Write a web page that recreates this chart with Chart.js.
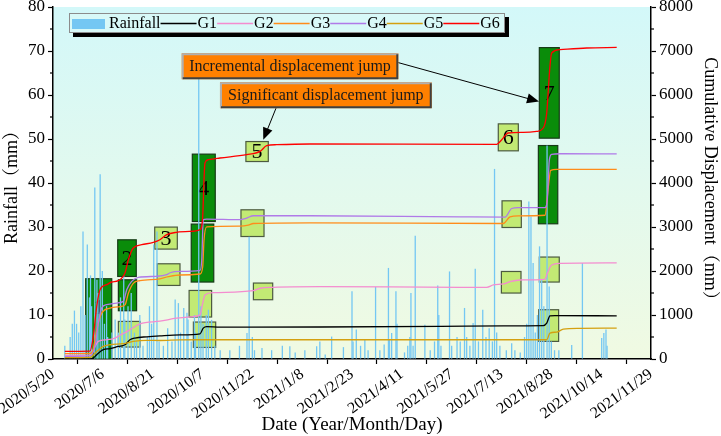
<!DOCTYPE html>
<html><head><meta charset="utf-8">
<script src="https://cdn.jsdelivr.net/npm/chart.js@4.4.1/dist/chart.umd.min.js"></script>
<style>html,body{margin:0;padding:0;background:#fff}#wrap{width:721px;height:436px}</style>
</head><body><div id="wrap"><canvas id="c" width="721" height="436"></canvas></div>
<script>
// ---------- DATA ----------
// x values are days since 2020/5/20
const dateLabels = ['2020/5/20','2020/7/6','2020/8/21','2020/10/7','2020/11/22','2021/1/8','2021/2/23','2021/4/11','2021/5/27','2021/7/13','2021/8/28','2021/10/14','2021/11/29'];
const rainDays = [11,16,18,20,22,24,26,28,30,32,34,35,36,39,41,42,44,46,48,50,51,55,58,61,63,66,67,70,73,76,78,81,84,88,90,92,94,97,99,103,107,111,114,117,119,122,125,126,129,132,133,136,138,140,143,145,148,151,156,165,174,181,183,186,188,195,204,214,221,226,235,246,249,254,260,271,279,280,283,287,291,294,301,305,309,313,314,316,320,321,328,331,333,334,336,338,347,352,356,359,360,362,370,372,377,380,384,386,389,392,394,397,401,404,407,410,412,414,417,423,428,431,436,440,442,444,446,448,450,452,454,456,458,461,463,465,468,472,484,494,512,514,516,517];
const rainVals = [3,5,8,11,8,6,12,29,10,26,14,19,12,39,18,15,42,20,8,12,5,6,9,6,14,19,9,12,15,6,4,10,3,5,12,8,26,29,4,3,7,4,13.5,12.7,6,11.6,10.5,9,4,10,6,66,12,8,10,11.2,8.9,3,2,2,3,5.9,27.8,5,2,2.5,2,3,2.9,1.5,2,2.9,4,1,5.1,2.7,15.4,4,6.7,3,4.4,2,16.4,2,3.3,20.7,4.5,5.9,15.4,8,1.5,3,5,15,3,28,7.8,2,4,16.7,10,3,19.9,3,5,4,11.6,5,3,8.2,20.5,4,11.2,5,7,4,43.2,6,3,2,3.6,2,1.5,5,8,35.8,32.4,21.8,6,10,25.6,18,12,48.5,16.5,4,2,2,3.2,21.8,4.8,5.9,6.7,3];

// cumulative displacement series: [day, mm]
const G1 = [[11,0],[34.5,0],[37.6,20],[40.8,98],[46.9,211],[53.2,234],[60.9,286],[67.2,324],[71.8,437],[76.5,476],[87.4,505],[99.8,527],[118.5,550],[137.2,573],[140.2,702],[143.4,738],[155.8,725],[249.1,727],[361.1,740],[420.2,754],[457.5,760],[460.7,815],[463.7,980],[468.4,987],[526,980]];
const G2 = [[11,80],[34.5,90],[37.6,210],[42.3,400],[50.1,437],[57.9,476],[62.5,540],[67.2,600],[71.8,664],[81.2,800],[99.8,860],[115.4,928],[130.9,965],[137.2,1003],[139.7,1268],[141.8,1456],[149.6,1508],[186.9,1553],[193.2,1608],[205.6,1630],[249.1,1644],[379.8,1630],[404.7,1630],[410.9,1683],[420.2,1705],[426.4,1757],[435.8,1796],[459.1,1811],[461.2,1947],[465.3,2135],[473.1,2174],[526,2185]];
const G3 = [[11,120],[34.5,125],[37.3,200],[40.8,664],[45.4,1042],[53.2,1155],[62.5,1191],[67.2,1230],[70.3,1494],[74.9,1720],[81.2,1780],[99.8,1822],[107.6,1870],[118.5,1909],[137.2,1932],[139.7,2097],[140.9,2700],[143.4,3003],[174.5,3018],[182.2,3041],[186.9,3080],[239.8,3093],[420.2,3080],[426.4,3230],[434.2,3252],[459.1,3267],[462.2,3910],[464.4,4287],[470,4310],[526,4310]];
const G4 = [[11,60],[34.5,70],[39.2,286],[42.3,818],[45.4,1160],[50.1,1234],[59.4,1272],[65.6,1310],[68.8,1575],[73.4,1764],[79.6,1855],[96.8,1880],[106.1,1916],[109.2,1960],[118.5,1990],[137.2,2014],[138.8,2257],[140.2,3166],[143.4,3180],[174.5,3166],[180.7,3204],[186.9,3256],[239.8,3256],[379.8,3230],[421.8,3225],[428,3420],[434.2,3440],[459.1,3440],[461.2,3607],[463.1,4513],[465.3,4650],[473.1,4665],[526,4660]];
const G5 = [[11,30],[34.5,35],[40.8,173],[46.9,286],[53.2,324],[65.6,347],[74.9,400],[87.4,423],[99.8,420],[118.5,435],[137.2,437],[249.1,437],[361.1,437],[460.7,437],[463.7,589],[470,611],[476.2,679],[491.7,695],[526,702]];
const G6 = [[11,175],[34.5,180],[37.6,514],[40.8,1195],[43.9,1575],[50.1,1690],[54.8,1750],[60.9,1780],[67.2,1960],[70.3,2257],[74.9,2523],[82.8,2598],[93.6,2650],[99.8,2711],[106.1,2825],[115.4,2880],[127.8,2900],[137.2,2940],[139.7,3240],[140.9,4075],[141.8,4455],[144.9,4530],[155.8,4568],[180.7,4643],[193.2,4718],[199.4,4848],[208.7,4870],[239.8,4886],[414,4880],[418.7,4984],[424.8,5136],[438.8,5150],[451.3,5173],[457.5,5250],[460.7,5590],[462.2,6120],[463.7,6650],[465.3,6955],[473.1,7030],[498,7068],[526,7082]];

// highlighted periods: [dayStart, dayEnd, mmLow, mmHigh, dark?, label, labelAt]
const boxes = [
  [30.5,54.8,0,1824,true,'1',1188],
  [61,78,1097,1800,true,''],
  [60.4,77.7,1876,2709,true,'2'],
  [94.9,116,2498,2998,false,'3'],
  [97.3,118.5,1672,2164,false,''],
  [61,81.2,272,854,false,''],
  [127,148,954,1558,false,''],
  [131,151.8,263,840,false,''],
  [187,205,1347,1726,false,''],
  [130,151.4,3125,4656,true,'4'],
  [129,150,1749,3066,true,''],
  [180,200.9,4488,4942,false,'5'],
  [175.4,196.9,2784,3391,false,''],
  [415.5,434.2,4731,5344,false,'6'],
  [453.8,472.4,5019,7077,true,'7'],
  [452.9,471,3073,4851,true,''],
  [419,437,2989,3595,false,''],
  [418.4,436.7,1499,1989,false,''],
  [453.8,472.4,1749,2317,false,''],
  [453.2,471.8,400,1120,false,'']
];
// callouts: text, box [d0,d1,vTop,vBottom], arrow [fromD,fromV,toD,toV]
const callouts = [
  {text:'Incremental displacement jump', box:[120.1,322.2,6950,6359], arrow:[322.2,6736,453.5,5850]},
  {text:'Significant displacement jump', box:[155.8,353.4,6291,5701], arrow:[208.1,5701,196.2,4981]}
];

// ---------- CHART ----------
const FONT = "'Liberation Serif','Times New Roman','Noto Serif CJK SC','Noto Sans CJK SC',serif";
const series = [
  {label:'G1', data:G1, color:'#000000'},
  {label:'G2', data:G2, color:'#f48ccf'},
  {label:'G3', data:G3, color:'#ff8c1a'},
  {label:'G4', data:G4, color:'#b07ae8'},
  {label:'G5', data:G5, color:'#d4a010'},
  {label:'G6', data:G6, color:'#ff0000'}
];
const RAIN_COLOR = '#74c7f3';

const datasets = [{
  type:'bar', label:'Rainfall', yAxisID:'y', order:20,
  data: rainDays.map((d,i)=>({x:d, y:rainVals[i]})),
  backgroundColor: RAIN_COLOR, barThickness:1.3, inflateAmount:0, borderWidth:0
}].concat(series.map((s,i)=>({
  type:'line', label:s.label, yAxisID:'y1', order:6-i,
  data: s.data.map(p=>({x:p[0], y:p[1]})),
  borderColor:s.color, borderWidth:1.3, pointRadius:0, fill:false,
  cubicInterpolationMode:'monotone'
})));

const bgPlugin = {
  id:'bg',
  beforeDraw(chart){
    const {ctx, chartArea:a} = chart;
    const g = ctx.createLinearGradient(0,a.top,0,a.bottom);
    g.addColorStop(0,'#d3f8f9'); g.addColorStop(0.5,'#e2f9ee'); g.addColorStop(1,'#f0fae2');
    ctx.save(); ctx.fillStyle=g; ctx.fillRect(a.left,a.top,a.right-a.left,a.bottom-a.top); ctx.restore();
  }
};
const boxPlugin = {
  id:'boxes',
  beforeDatasetsDraw(chart){
    const {ctx, chartArea:a, scales} = chart; const x=scales.x, y=scales.y1;
    ctx.save(); ctx.beginPath(); ctx.rect(a.left,a.top,a.right-a.left,a.bottom-a.top); ctx.clip();
    boxes.forEach(b=>{
      const x0=x.getPixelForValue(b[0]), x1=x.getPixelForValue(b[1]);
      const yT=y.getPixelForValue(b[3]), yB=y.getPixelForValue(b[2]);
      ctx.fillStyle = b[4] ? '#0a8c0a' : '#c2ea74';
      ctx.fillRect(x0,yT,x1-x0,yB-yT);
      ctx.strokeStyle = b[4] ? '#173a17' : '#4c5a40'; ctx.lineWidth=1.2;
      ctx.strokeRect(x0,yT,x1-x0,yB-yT);
    });
    ctx.fillStyle='#000'; ctx.font='22px '+FONT; ctx.textAlign='center'; ctx.textBaseline='middle';
    boxes.forEach(b=>{
      if(!b[5]) return;
      const cx=(x.getPixelForValue(b[0])+x.getPixelForValue(b[1]))/2;
      const cy= b[6]!==undefined ? y.getPixelForValue(b[6]) : (y.getPixelForValue(b[2])+y.getPixelForValue(b[3]))/2;
      ctx.fillText(b[5],cx,cy+1);
    });
    ctx.restore();
  }
};
const calloutPlugin = {
  id:'callouts',
  afterDatasetsDraw(chart){
    const {ctx, scales} = chart; const x=scales.x, y=scales.y1;
    ctx.save();
    callouts.forEach(c=>{
      const [fd,fv,td,tv]=c.arrow;
      const sx=x.getPixelForValue(fd), sy=y.getPixelForValue(fv), tx=x.getPixelForValue(td), ty=y.getPixelForValue(tv);
      const ang=Math.atan2(ty-sy,tx-sx), L=12, W=5;
      ctx.strokeStyle='#000'; ctx.lineWidth=1;
      ctx.beginPath(); ctx.moveTo(sx,sy); ctx.lineTo(tx-Math.cos(ang)*L*0.8, ty-Math.sin(ang)*L*0.8); ctx.stroke();
      ctx.fillStyle='#000'; ctx.beginPath(); ctx.moveTo(tx,ty);
      ctx.lineTo(tx-Math.cos(ang)*L-Math.sin(ang)*W, ty-Math.sin(ang)*L+Math.cos(ang)*W);
      ctx.lineTo(tx-Math.cos(ang)*L+Math.sin(ang)*W, ty-Math.sin(ang)*L-Math.cos(ang)*W);
      ctx.closePath(); ctx.fill();
    });
    callouts.forEach(c=>{
      const x0=x.getPixelForValue(c.box[0]), x1=x.getPixelForValue(c.box[1]);
      const y0=y.getPixelForValue(c.box[2]), y1=y.getPixelForValue(c.box[3]);
      ctx.fillStyle='#ff8000'; ctx.fillRect(x0,y0,x1-x0,y1-y0);
      ctx.lineWidth=2;
      ctx.strokeStyle='#b0b0b0'; ctx.beginPath(); ctx.moveTo(x0+1,y1); ctx.lineTo(x0+1,y0+1); ctx.lineTo(x1,y0+1); ctx.stroke();
      ctx.strokeStyle='#404040'; ctx.beginPath(); ctx.moveTo(x1-1,y0+1); ctx.lineTo(x1-1,y1-1); ctx.lineTo(x0+1,y1-1); ctx.stroke();
      ctx.fillStyle='#1a1a1a'; ctx.font='16px '+FONT; ctx.textAlign='center'; ctx.textBaseline='middle';
      ctx.fillText(c.text,(x0+x1)/2,(y0+y1)/2+1);
    });
    ctx.restore();
  }
};
const minorPlugin = {
  id:'minor',
  afterDraw(chart){
    const {ctx, chartArea:a, scales} = chart;
    ctx.save(); ctx.strokeStyle='#000'; ctx.lineWidth=1.2;
    for(let v=5; v<80; v+=10){ const py=scales.y.getPixelForValue(v); ctx.beginPath(); ctx.moveTo(a.left,py); ctx.lineTo(a.left-3,py); ctx.stroke(); }
    for(let v=500; v<8000; v+=1000){ const py=scales.y1.getPixelForValue(v); ctx.beginPath(); ctx.moveTo(a.right,py); ctx.lineTo(a.right+3,py); ctx.stroke(); }
    ctx.restore();
  }
};
const legendPlugin = {
  id:'customLegend',
  afterDraw(chart){
    const ctx=chart.ctx; ctx.save();
    const L=69,T=13,R=505,B=33;
    ctx.fillStyle='#000'; ctx.fillRect(L+4,T+4,R-L,B-T);
    ctx.fillStyle='#d8f9f8'; ctx.fillRect(L,T,R-L,B-T);
    ctx.strokeStyle='#8c8c8c'; ctx.lineWidth=1; ctx.strokeRect(L+0.5,T+0.5,R-L-1,B-T-1);
    ctx.font='16px '+FONT; ctx.textBaseline='middle'; ctx.textAlign='left';
    const cy=(T+B)/2+0.5;
    ctx.fillStyle=RAIN_COLOR; ctx.fillRect(72,19,33,10);
    ctx.fillStyle='#000'; ctx.fillText('Rainfall',109,cy);
    let xx=109+ctx.measureText('Rainfall').width;
    series.forEach(s=>{
      ctx.strokeStyle=s.color; ctx.lineWidth=1.3; ctx.beginPath(); ctx.moveTo(xx,cy); ctx.lineTo(xx+36,cy); ctx.stroke();
      ctx.fillStyle='#000'; ctx.fillText(s.label,xx+37,cy);
      xx+=37+ctx.measureText(s.label).width;
    });
    ctx.restore();
  }
};

const axisCommon = {
  grid:{display:true, drawOnChartArea:false, drawTicks:true, tickLength:5, tickColor:'#000', tickWidth:1.2},
  border:{display:true, color:'#000', width:1.5}
};

new Chart(document.getElementById('c'), {
  type:'bar',
  data:{datasets},
  plugins:[bgPlugin, boxPlugin, calloutPlugin, minorPlugin, legendPlugin],
  options:{
    responsive:false, animation:false, devicePixelRatio:1,
    layout:{padding:{top:7,left:0,right:0,bottom:0}},
    plugins:{legend:{display:false}, tooltip:{enabled:false}},
    scales:{
      x:{type:'linear', min:0, max:558, offset:false, ...axisCommon,
        afterBuildTicks:s=>{ s.ticks = dateLabels.map((_,i)=>({value:i*46.5})); },
        afterFit:s=>{ s.height=77; s.paddingLeft=0; s.paddingRight=0; },
        ticks:{autoSkip:false, minRotation:36, maxRotation:36, padding:1, color:'#000', font:{family:FONT,size:16},
          callback:(v,i)=>dateLabels[i]},
        title:{display:true, text:'Date (Year/Month/Day)', color:'#000', font:{family:FONT,size:19}, padding:{top:0,bottom:0}}
      },
      y:{type:'linear', position:'left', min:0, max:80, ...axisCommon,
        afterFit:s=>{ s.width=53; s.paddingTop=0; s.paddingBottom=0; },
        ticks:{stepSize:10, padding:3, color:'#000', font:{family:FONT,size:17}, callback:v=>String(v)},
        title:{display:true, text:'Rainfall（mm）', color:'#000', font:{family:FONT,size:18}, padding:{top:1,bottom:0}}
      },
      y1:{type:'linear', position:'right', min:0, max:8000, ...axisCommon,
        afterFit:s=>{ s.width=70; s.paddingTop=0; s.paddingBottom=0; },
        ticks:{stepSize:1000, padding:3, color:'#000', font:{family:FONT,size:17}, callback:v=>String(v)},
        title:{display:true, text:'Cumulative Displacement（mm）', color:'#000', font:{family:FONT,size:18}, padding:{top:0,bottom:0}}
      }
    }
  }
});
</script></body></html>
